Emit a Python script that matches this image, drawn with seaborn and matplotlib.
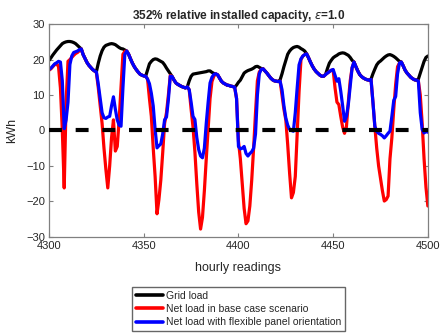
import matplotlib
matplotlib.use("Agg")
import matplotlib.pyplot as plt
import numpy as np
import pandas as pd
import seaborn as sns

# hourly readings 4300..4500 (kWh)
hours = np.arange(4300, 4501)

grid_load = [
    19.8, 20.5, 21.3, 22.0, 22.7, 23.3, 23.9, 24.5, 24.8, 25.0,
    25.1, 25.1, 25.0, 24.8, 24.5, 24.0, 23.5, 23.0, 21.4, 20.3,
    19.2, 18.4, 17.8, 17.2, 16.8, 16.6, 19.0, 21.0, 22.5, 23.5,
    24.0, 24.2, 24.4, 24.5, 24.4, 24.2, 23.8, 23.4, 23.1, 23.0,
    22.7, 22.4, 21.5, 20.2, 19.0, 18.0, 17.2, 16.5, 15.9, 15.6,
    15.4, 15.3, 17.0, 18.8, 19.5, 20.0, 20.2, 20.1, 19.8, 19.5,
    19.2, 18.5, 17.6, 16.8, 16.0, 15.2, 14.2, 13.4, 13.0, 12.7,
    12.4, 12.2, 12.0, 12.3, 14.0, 15.3, 15.9, 16.0, 16.1, 16.2,
    16.3, 16.4, 16.5, 16.6, 16.8, 16.8, 16.4, 16.1, 15.9, 15.7,
    14.8, 13.9, 13.4, 13.1, 12.8, 12.7, 12.5, 12.4, 12.2, 12.8,
    13.6, 14.2, 15.2, 16.2, 16.6, 16.9, 17.1, 17.3, 17.6, 18.0,
    18.1, 17.8, 17.5, 17.4, 16.8, 16.2, 15.5, 14.8, 14.3, 14.0,
    13.9, 13.8, 14.3, 16.0, 18.0, 19.8, 21.5, 22.4, 23.0, 23.4,
    23.6, 23.7, 23.5, 23.1, 22.8, 22.4, 21.6, 20.5, 19.3, 18.2,
    17.3, 16.6, 16.1, 15.6, 15.3, 15.3, 15.8, 17.5, 19.0, 19.8,
    20.5, 20.9, 21.2, 21.6, 21.8, 21.9, 21.8, 21.5, 21.2, 20.6,
    19.8, 19.3, 18.0, 16.8, 15.8, 15.2, 14.8, 14.5, 14.3, 14.2,
    14.5, 16.0, 17.3, 18.5, 19.2, 19.6, 20.1, 20.6, 21.0, 21.3,
    21.4, 21.2, 20.9, 20.5, 20.0, 19.5, 19.3, 18.2, 17.0, 16.2,
    15.6, 15.0, 14.6, 14.3, 14.2, 14.5, 16.2, 18.0, 19.5, 20.6,
    21.0,
]

base_case = [
    17.0, 17.4, 18.0, 18.6, 18.9, 18.0, 12.0, 0.0, -16.2, 8.0,
    19.5, 20.0, 20.6, 21.2, 21.7, 22.0, 22.5, 23.0, 21.4, 20.3,
    19.2, 18.4, 17.8, 17.2, 16.8, 16.3, 12.0, 7.0, 2.0, -5.0,
    -11.0, -16.2, -10.0, -2.0, 3.0, -5.8, -4.5, 3.0, 12.5, 21.5,
    22.3, 22.4, 21.5, 20.2, 19.0, 18.0, 17.2, 16.5, 15.9, 15.6,
    15.4, 15.3, 14.5, 9.0, 4.0, -5.0, -13.0, -23.5, -19.5, -14.0,
    -6.3, 2.0, 5.0, 10.0, 15.5, 15.2, 14.2, 13.4, 13.0, 12.7,
    12.4, 12.2, 12.0, 12.3, 11.5, 6.0, 1.0, -6.0, -15.0, -23.0,
    -27.8, -24.5, -17.0, -8.0, 0.3, 9.0, 13.8, 15.3, 16.0, 15.7,
    14.8, 13.9, 13.4, 13.1, 12.8, 12.7, 12.5, 12.4, 12.2, 9.0,
    -3.0, -8.0, -15.0, -22.0, -26.3, -25.5, -21.3, -14.0, -5.0, 5.0,
    14.0, 16.5, 17.2, 17.4, 16.8, 16.2, 15.5, 14.8, 14.3, 14.0,
    13.9, 13.8, 13.9, 10.0, 6.0, 3.0, -4.0, -12.0, -19.0, -17.5,
    -13.0, -1.0, 11.0, 20.0, 21.0, 21.4, 21.6, 20.5, 19.3, 18.2,
    17.3, 16.6, 16.1, 15.6, 15.3, 15.3, 15.8, 16.2, 16.6, 17.0,
    17.0, 12.0, 8.0, 7.3, 4.0, 1.0, -0.8, 1.0, 8.0, 14.0,
    17.7, 19.3, 18.0, 16.8, 15.8, 15.2, 14.8, 14.5, 14.3, 14.2,
    14.4, 8.0, 1.2, -5.0, -10.0, -13.5, -17.0, -19.9, -19.5, -18.5,
    -8.0, -2.0, 6.0, 13.0, 18.0, 19.0, 19.3, 18.2, 17.0, 16.2,
    15.6, 15.0, 14.6, 14.3, 14.2, 13.9, 10.0, 2.0, -8.0, -16.0,
    -21.3,
]

flexible = [
    17.2, 17.6, 18.2, 18.8, 19.1, 19.5, 19.3, 14.0, 0.5, 3.0,
    8.0, 18.6, 21.0, 22.0, 22.2, 22.4, 22.8, 23.0, 21.4, 20.3,
    19.2, 18.4, 17.8, 17.2, 16.8, 16.5, 13.0, 9.0, 5.0, 3.6,
    3.4, 3.8, 4.0, 7.0, 9.5, 6.0, 3.0, 1.5, 1.2, 12.0,
    21.5, 22.4, 21.5, 20.2, 19.0, 18.0, 17.2, 16.5, 15.9, 15.6,
    15.4, 15.3, 14.5, 13.2, 10.5, 6.9, 0.3, -4.9, -4.3, -3.8,
    -1.0, 3.0, 3.8, 8.7, 15.3, 15.2, 14.2, 13.4, 13.0, 12.7,
    12.4, 12.2, 12.0, 12.3, 11.5, 8.0, 4.0, 3.1, -2.0, -5.4,
    -7.2, -7.7, -5.0, 2.0, 8.0, 13.4, 15.0, 15.8, 16.0, 15.7,
    14.8, 13.9, 13.4, 13.1, 12.8, 12.7, 12.5, 12.4, 12.2, 9.0,
    -4.5, -5.2, -5.0, -4.5, -6.5, -7.2, -6.5, -6.0, -5.0, -1.0,
    10.0, 16.0, 17.2, 17.4, 16.8, 16.2, 15.5, 14.8, 14.3, 14.0,
    13.9, 13.8, 13.9, 11.5, 7.0, 3.5, 1.5, 0.3, 0.0, -0.2,
    5.0, 12.0, 18.5, 20.2, 21.0, 21.4, 21.6, 20.5, 19.3, 18.2,
    17.3, 16.6, 16.1, 15.6, 15.3, 15.3, 15.8, 16.2, 16.6, 17.0,
    17.2, 15.5, 13.9, 14.6, 11.1, 7.0, 2.6, 4.0, 7.3, 12.5,
    17.7, 19.3, 18.0, 16.8, 15.8, 15.2, 14.8, 14.5, 14.3, 14.2,
    14.4, 8.0, 1.2, -0.3, -0.8, -1.1, -1.5, -2.1, -1.5, -0.8,
    -0.2, 4.0, 8.5, 9.6, 16.0, 19.0, 19.3, 18.2, 17.0, 16.2,
    15.6, 15.0, 14.6, 14.3, 14.2, 13.9, 5.0, 0.3, -0.7, -0.3,
    -0.5,
]

series_labels = [
    "Grid load",
    "Net load in base case scenario",
    "Net load with flexible panel orientation",
]
series_colors = ["black", "red", "blue"]
zero_level = 0.0

sns.set_theme(style="white")
plt.rcParams["font.family"] = ["Liberation Sans", "DejaVu Sans"]

frame = pd.DataFrame({
    "hour": np.tile(hours, 3),
    "kwh": grid_load + base_case + flexible,
    "series": np.repeat(series_labels, len(hours)),
})

fig, ax = plt.subplots(figsize=(4.42, 3.35), dpi=100)
fig.subplots_adjust(left=0.111, right=0.968, top=0.928, bottom=0.293)

sns.lineplot(data=frame, x="hour", y="kwh", hue="series", hue_order=series_labels,
             palette=series_colors, linewidth=2.3, ax=ax, legend=False)
ax.axhline(zero_level, color="black", linewidth=3.0, linestyle=(0, (3.1, 3.3)), zorder=5)

ax.set_xlim(4300, 4500)
ax.set_ylim(-30, 30)
ax.set_xticks(np.arange(4300, 4501, 50))
ax.set_yticks(np.arange(-30, 31, 10))
ax.tick_params(direction="in", length=3, width=0.8, colors="#808080",
               labelcolor="#262626", labelsize=8, bottom=True, left=True,
               top=True, right=True, pad=3)
for spine in ax.spines.values():
    spine.set_color("#808080")
    spine.set_linewidth(0.9)

ax.set_title("352% relative installed capacity, $\\epsilon$=1.0",
             fontsize=8.5, fontweight="bold", pad=4)
ax.set_xlabel("hourly readings", fontsize=9, color="#262626", labelpad=8)
ax.set_ylabel("kWh", fontsize=9, color="#262626", labelpad=6)

handles = [plt.Line2D([], [], color=c, linewidth=2.6) for c in series_colors]
fig.legend(handles, series_labels, loc="upper center", bbox_to_anchor=(0.54, 0.143),
           fontsize=7.5, frameon=True, fancybox=False, edgecolor="#404040",
           handlelength=2.6, handletextpad=0.3, labelspacing=0.32,
           borderpad=0.35, borderaxespad=0)

fig.savefig("out.png", dpi=100)
